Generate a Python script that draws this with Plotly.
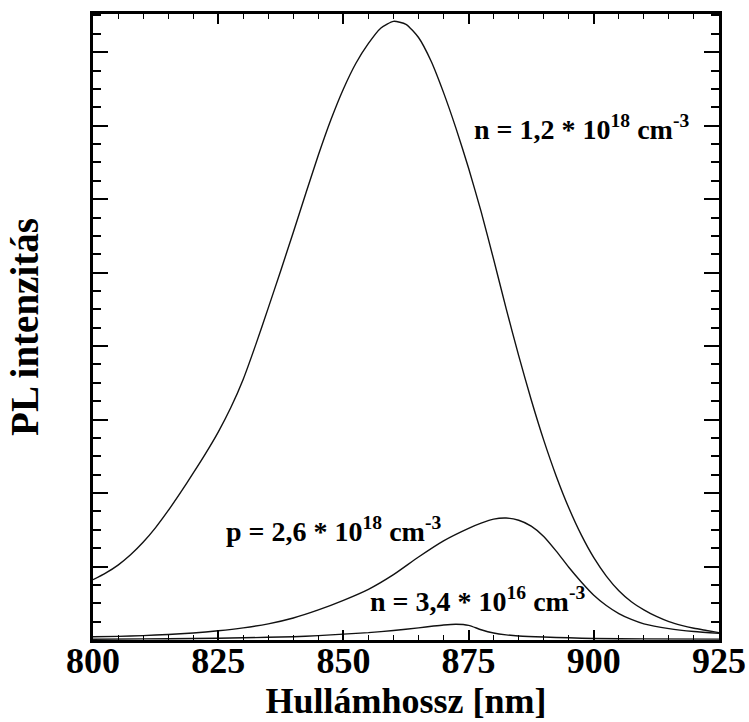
import plotly.graph_objects as go

# Wavelength (nm) and PL intensity (arb. units)
wl_n12 = [800, 802.5, 805, 807.5, 810, 812.5, 815, 817.5, 820, 822.5, 825, 827.5, 830, 832.5,
          835, 837.5, 840, 842.5, 845, 847.5, 850, 852.5, 855, 857.5, 860, 862.5, 865, 867.5,
          870, 872.5, 875, 877.5, 880, 882.5, 885, 887.5, 890, 892.5, 895, 897.5, 900, 902.5,
          905, 907.5, 910, 912.5, 915, 917.5, 920, 922.5, 925]
pl_n12 = [0.82, 0.91, 1.02, 1.16, 1.33, 1.53, 1.76, 2.01, 2.27, 2.54, 2.83, 3.16, 3.55, 4.02,
          4.52, 5.03, 5.55, 6.08, 6.60, 7.08, 7.50, 7.85, 8.12, 8.33, 8.42, 8.38, 8.20, 7.88,
          7.45, 6.96, 6.42, 5.83, 5.18, 4.51, 3.87, 3.27, 2.72, 2.23, 1.80, 1.43, 1.12, 0.87,
          0.67, 0.52, 0.41, 0.32, 0.25, 0.20, 0.16, 0.13, 0.10]

wl_p26 = [800, 805, 810, 815, 820, 825, 830, 835, 840, 845, 850, 855, 860, 865, 870, 875,
          877.5, 880, 882.5, 885, 887.5, 890, 892.5, 895, 897.5, 900, 902.5, 905, 907.5, 910,
          915, 920, 925]
pl_p26 = [0.045, 0.05, 0.06, 0.075, 0.095, 0.125, 0.165, 0.22, 0.30, 0.41, 0.54, 0.69, 0.89,
          1.13, 1.35, 1.52, 1.59, 1.645, 1.66, 1.63, 1.55, 1.41, 1.21, 0.99, 0.79, 0.61, 0.47,
          0.36, 0.28, 0.22, 0.155, 0.115, 0.09]

wl_n34 = [800, 810, 820, 830, 840, 845, 850, 855, 860, 865, 868, 870, 872.5, 875, 877.5,
          880, 882.5, 885, 890, 895, 900, 910, 925]
pl_n34 = [0.01, 0.015, 0.02, 0.03, 0.045, 0.06, 0.08, 0.10, 0.13, 0.165, 0.19, 0.205, 0.215,
          0.20, 0.14, 0.095, 0.07, 0.055, 0.04, 0.03, 0.02, 0.015, 0.012]

labels = ["n = 1,2 * 10<sup>18</sup> cm<sup>-3</sup>",
          "p = 2,6 * 10<sup>18</sup> cm<sup>-3</sup>",
          "n = 3,4 * 10<sup>16</sup> cm<sup>-3</sup>"]
label_x = [897.6, 848.1, 876.8]
label_y = [6.97, 1.50, 0.55]

x_title = "Hullámhossz [nm]"
y_title = "PL intenzitás"

FONT = "Liberation Serif"

fig = go.Figure()
for wl, pl in [(wl_n12, pl_n12), (wl_p26, pl_p26), (wl_n34, pl_n34)]:
    fig.add_trace(go.Scatter(x=wl, y=pl, mode="lines",
                             line=dict(color="#111111", width=1.4, shape="spline", smoothing=0.6),
                             showlegend=False, hoverinfo="skip"))

for t, x, y in zip(labels, label_x, label_y):
    fig.add_annotation(x=x, y=y, text=t, showarrow=False, xanchor="center", yanchor="middle",
                       font=dict(family=FONT, size=28, color="black", weight="bold"))

fig.update_layout(
    width=749, height=722,
    margin=dict(l=93, r=30, t=14, b=82),
    paper_bgcolor="white", plot_bgcolor="white",
    font=dict(family=FONT, color="black"),
    xaxis=dict(range=[800, 925], dtick=25, tick0=800, ticks="inside", ticklen=10, tickwidth=1.5,
               tickcolor="black", mirror="ticks", showline=True, linewidth=3, linecolor="black",
               showgrid=False, zeroline=False, automargin=False, ticklabelstandoff=-13,
               minor=dict(dtick=5, ticks="inside", ticklen=5, tickcolor="black", tickwidth=1),
               tickfont=dict(family=FONT, size=36, color="black", weight="bold"),
               title=dict(text=x_title, standoff=0,
                          font=dict(family=FONT, size=36, color="black", weight="bold"))),
    yaxis=dict(range=[0, 8.52], dtick=1, tick0=0, ticks="inside", ticklen=15, tickwidth=2,
               tickcolor="black", mirror="ticks", showline=True, linewidth=3, linecolor="black",
               showgrid=False, zeroline=False, showticklabels=False, automargin=False,
               minor=dict(dtick=0.25, ticks="inside", ticklen=8, tickcolor="black", tickwidth=1.5),
               title=dict(text=y_title, standoff=40,
                          font=dict(family=FONT, size=39, color="black", weight="bold"))),
)

fig.write_html("out.html")
